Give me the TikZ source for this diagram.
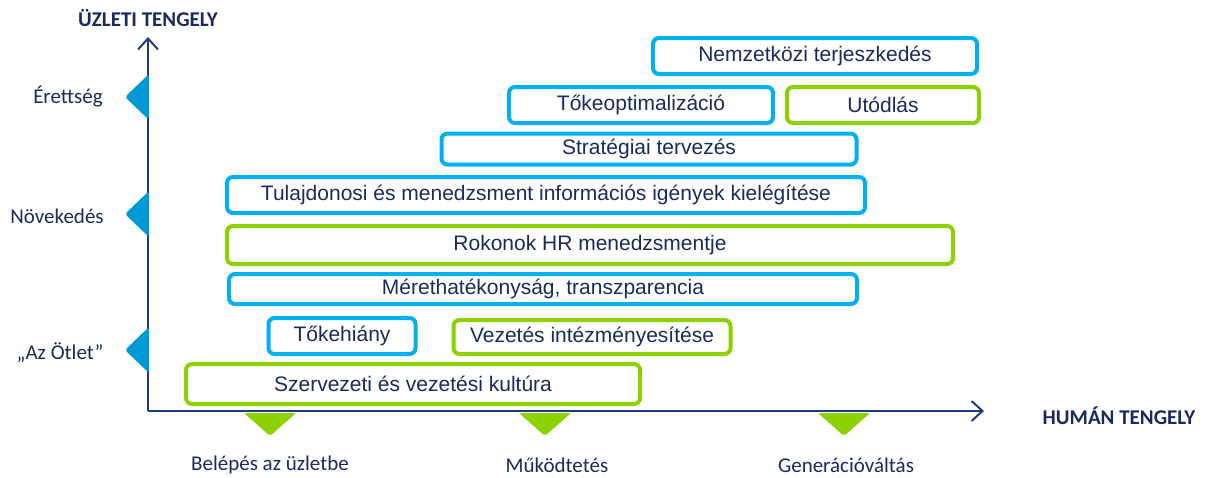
\documentclass[tikz,border=0pt]{standalone}
\usepackage{fontspec}
\setmainfont{Liberation Sans}
\newfontfamily\calfont{Carlito}
\usetikzlibrary{arrows.meta,positioning}

\definecolor{axisblue}{HTML}{1F3A84}
\definecolor{textnavy}{HTML}{1B2A5E}
\definecolor{boxblue}{HTML}{00B0F0}
\definecolor{boxgreen}{HTML}{8DD100}
\definecolor{markblue}{HTML}{0099D8}

\tikzset{
  stage/.style={draw, rounded corners=6pt, line width=4pt, inner sep=0pt,
    text=textnavy, font=\fontsize{21}{24}\selectfont},
  bluestage/.style={stage, draw=boxblue},
  greenstage/.style={stage, draw=boxgreen},
  axislabel/.style={text=textnavy, inner sep=1pt, font=\calfont\fontsize{21}{24}\selectfont},
  axistitle/.style={text=textnavy, inner sep=1pt, font=\calfont\bfseries\fontsize{21}{24}\selectfont},
  axisline/.style={draw=axisblue, line width=2pt}
}

\begin{document}
\begin{tikzpicture}[x=1pt,y=-1pt]
\useasboundingbox (0,0) rectangle (1206,477);

% Axes
\coordinate (O) at (148,411);
\coordinate (ytop) at (148,37);
\coordinate (xend) at (984,411);
\draw[axisline,-{Straight Barb[length=11pt,width=20pt]}] (O) -- (ytop);
\draw[axisline,-{Straight Barb[length=11pt,width=20pt]}] (O) -- (xend);

% Axis titles
\node[axistitle] (ytitle) at (148,18) {ÜZLETI TENGELY};
\node[axistitle] (xtitle) at (1119,416) {HUMÁN TENGELY};

% Business stages (left markers)
\foreach \yy in {97,214,350}
  \fill[markblue, rounded corners=3pt] (149,\yy-23) -- (125,\yy) -- (149,\yy+23) -- cycle;
\node[axislabel] (erett) at (68,97) {Érettség};
\node[axislabel] (novek) at (57,216) {Növekedés};
\node[axislabel] (otlet) at (60,353) {„Az Ötlet”};

% Human stages (bottom markers)
\foreach \xx in {270,545,844}
  \fill[boxgreen, rounded corners=2pt] (\xx-26,413) -- (\xx+26,413) -- (\xx,436) -- cycle;
\node[axislabel] (belep) at (270,465) {Belépés az üzletbe};
\node[axislabel] (mukod) at (557,465) {Működtetés};
\node[axislabel] (generacio) at (846,465) {Generációváltás};

% Stages
\node[bluestage, minimum width=324pt, minimum height=36pt] (nemzetkozi) at (815,56) {Nemzetközi terjeszkedés};
\node[bluestage, minimum width=264pt, minimum height=36pt] (tokeopt) at (641,105) {Tőkeoptimalizáció};
\node[greenstage, minimum width=192pt, minimum height=36pt] (utodlas) at (883,105) {Utódlás};
\node[bluestage, minimum width=415pt, minimum height=31pt] (strategia) at (649,149) {Stratégiai tervezés};
\node[bluestage, minimum width=638pt, minimum height=36pt] (tulajdonos) at (546,195) {Tulajdonosi és menedzsment információs igények kielégítése};
\node[greenstage, minimum width=726pt, minimum height=38pt] (rokonok) at (590,245) {Rokonok HR menedzsmentje};
\node[bluestage, minimum width=628pt, minimum height=30pt] (meret) at (543,289) {Mérethatékonyság, transzparencia};
\node[bluestage, minimum width=147pt, minimum height=36pt] (tokehiany) at (342,336) {Tőkehiány};
\node[greenstage, minimum width=277pt, minimum height=34pt] (vezetes) at (592,337) {Vezetés intézményesítése};
\node[greenstage, minimum width=454pt, minimum height=40pt] (szervezeti) at (413,384) {Szervezeti és vezetési kultúra};

\end{tikzpicture}
\end{document}
